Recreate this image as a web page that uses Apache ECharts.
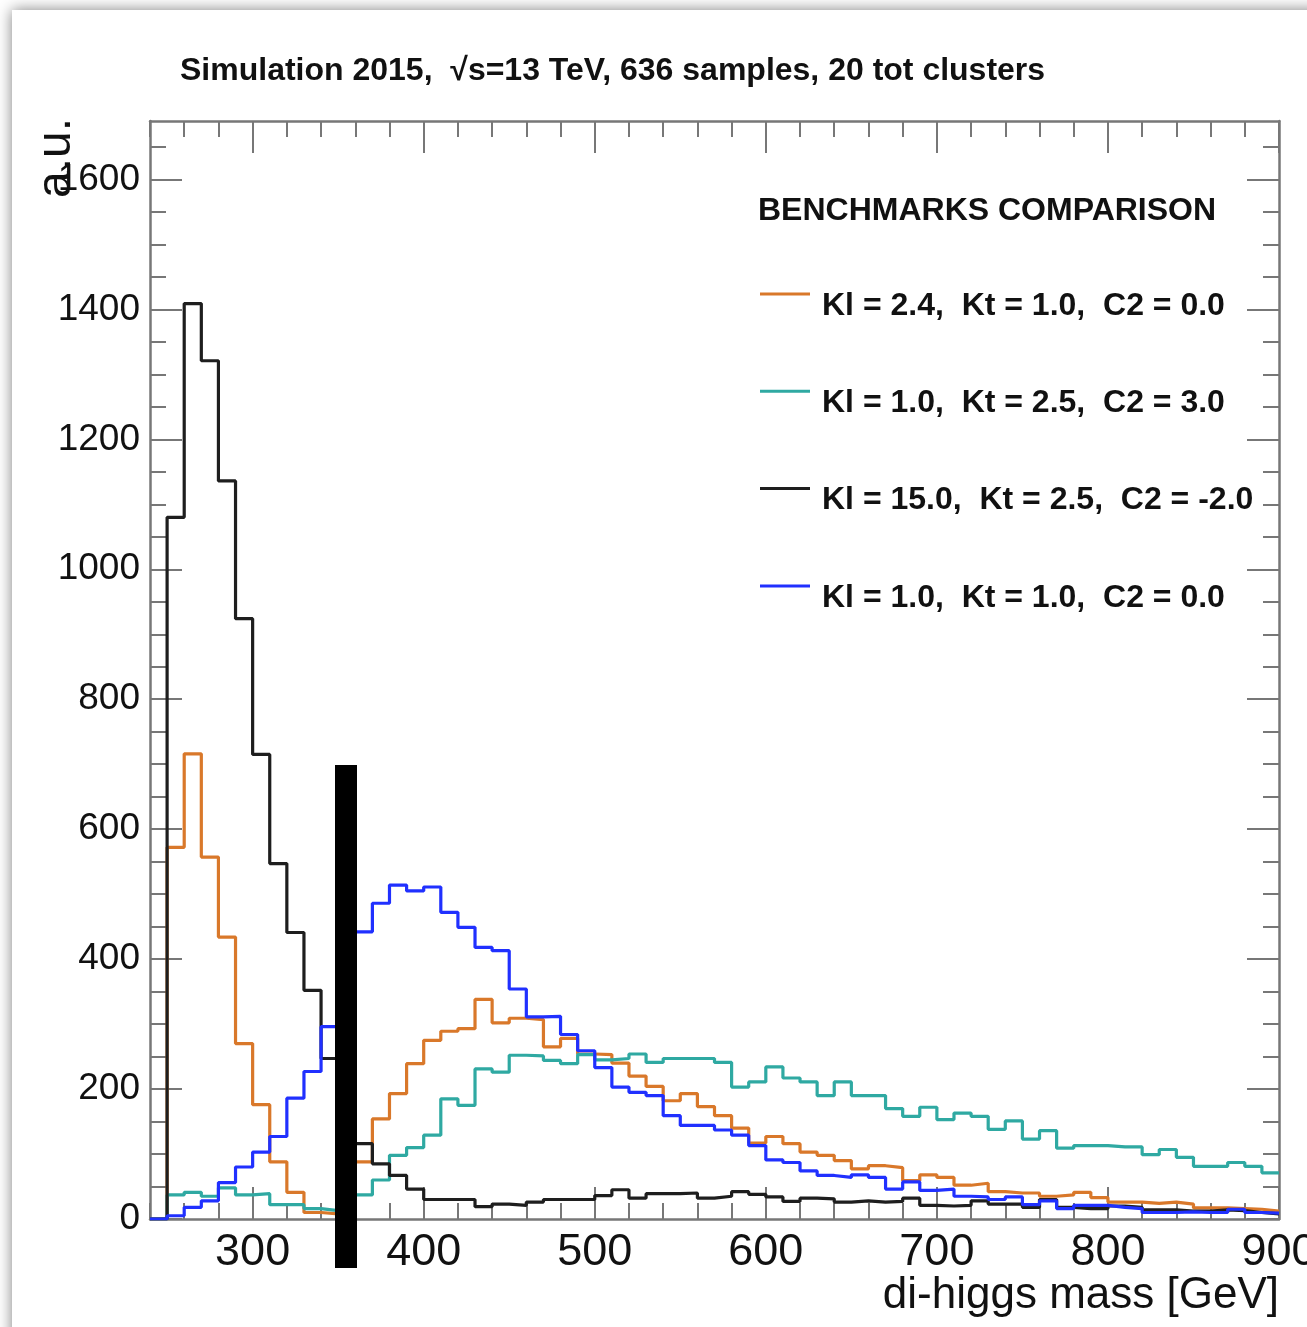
<!DOCTYPE html>
<html>
<head>
<meta charset="utf-8">
<script src="https://cdn.jsdelivr.net/npm/echarts@6/dist/echarts.min.js"></script>
<style>
html,body{margin:0;padding:0;background:#fff;}
#chart{width:1307px;height:1327px;}
</style>
</head>
<body>
<div id="chart"></div>
<script>
// ---- data (10 GeV bins, lower edges) ----
const binLow = [240,250,260,270,280,290,300,310,320,330,
  340,350,360,370,380,390,400,410,420,430,
  440,450,460,470,480,490,500,510,520,530,
  540,550,560,570,580,590,600,610,620,630,
  640,650,660,670,680,690,700,710,720,730,
  740,750,760,770,780,790,800,810,820,830,
  840,850,860,870,880,890];
const xMin = 240;
const xMax = 900;
const yMax = 1690;

const seriesNames = [
  'Kl = 2.4,  Kt = 1.0,  C2 = 0.0',
  'Kl = 1.0,  Kt = 2.5,  C2 = 3.0',
  'Kl = 15.0,  Kt = 2.5,  C2 = -2.0',
  'Kl = 1.0,  Kt = 1.0,  C2 = 0.0'
];

const orangeVals = [0,572,716,557,434,270,176,88,41,10,
  8,34,88,154,193,239,275,289,293,338,
  302,309,307,265,278,254,253,240,220,204,
  182,193,173,159,140,117,127,116,103,98,
  90,77,82,79,59,68,64,52,55,42,
  40,40,35,37,41,33,26,26,24,26,
  23,17,17,16,15,12];

const tealVals = [0,37,41,35,48,37,39,22,22,16,
  13,22,37,60,98,110,129,185,175,231,
  226,252,251,244,239,253,245,247,254,241,
  247,247,247,241,203,211,234,217,211,190,
  211,190,190,170,158,172,153,163,158,138,
  151,123,136,109,113,113,111,111,99,107,
  95,81,81,87,81,71];

const blackVals = [0,1080,1409,1321,1136,924,715,547,441,352,
  247,182,116,85,67,46,30,30,30,19,
  23,21,26,30,30,30,36,45,32,39,
  39,40,32,35,42,38,34,27,32,31,
  26,28,26,27,32,21,20,21,28,23,
  23,18,30,18,16,16,20,18,14,14,
  12,12,14,13,10,8];

const blueVals = [0,5,18,28,56,80,103,127,186,227,
  296,380,442,486,514,505,511,472,449,418,
  413,354,311,312,284,259,233,203,195,190,
  159,144,144,137,129,113,91,87,74,67,
  64,68,64,46,57,44,46,35,34,30,
  34,22,28,16,21,21,18,16,10,10,
  11,10,10,15,10,9];

const xMajorTicks = [300,400,500,600,700,800,900];
const yMajorTicks = [0,200,400,600,800,1000,1200,1400,1600];
const yMinorTicks = [0,50,100,150,200,250,300,350,400,450,500,550,600,650,700,750,800,850,900,950,1000,1050,1100,1150,1200,1250,1300,1350,1400,1450,1500,1550,1600,1650];

const colors = ['#D9782A', '#2FA9A2', '#1E1E1E', '#2030FF'];

// ---- build ----
const FONT = '"Liberation Sans", Arial, Helvetica, sans-serif';
const frameColor = '#777';
const tickStyle = {color: frameColor, width: 2};

function histData(vals) {
  const d = binLow.map((x, i) => [x, vals[i]]);
  d.push([xMax, vals[vals.length - 1]]);
  return d;
}

function xAxisDef(pos, major, showLine, withLabels) {
  const a = {
    type: 'value', min: xMin, max: xMax, position: pos,
    axisLine: {show: showLine, onZero: false, lineStyle: {color: frameColor, width: 2.5}},
    splitLine: {show: false},
    axisLabel: {show: false},
    axisTick: {show: true, inside: true, length: major ? 32 : 16, lineStyle: tickStyle}
  };
  if (major) {
    a.axisTick.customValues = xMajorTicks;
  } else {
    a.interval = 20;
  }
  if (withLabels) {
    a.axisLabel = {show: true, customValues: xMajorTicks, fontSize: 45, margin: 11,
      color: '#111', fontFamily: FONT, formatter: v => String(v)};
    a.name = 'di-higgs mass [GeV]';
    a.nameLocation = 'end';
    a.nameGap = 0;
    a.nameMoveOverlap = false;
    a.nameTextStyle = {fontSize: 44, fontFamily: FONT, color: '#111', align: 'right',
      verticalAlign: 'top', padding: [55, 0, 0, 0]};
  }
  return a;
}

function yAxisDef(pos, major, showLine, withLabels) {
  const a = {
    type: 'value', min: 0, max: yMax, position: pos,
    axisLine: {show: showLine, onZero: false, lineStyle: {color: frameColor, width: 2.5}},
    splitLine: {show: false},
    axisLabel: {show: false},
    axisTick: {show: true, inside: true, length: major ? 32 : 16, lineStyle: tickStyle,
      customValues: major ? yMajorTicks : yMinorTicks}
  };
  if (withLabels) {
    a.axisLabel = {show: true, customValues: yMajorTicks, fontSize: 37, margin: 10,
      color: '#111', fontFamily: FONT, formatter: v => String(v)};
  }
  return a;
}

const chart = echarts.init(document.getElementById('chart'), null, {renderer: 'canvas'});

const allVals = [orangeVals, tealVals, blackVals, blueVals];

chart.setOption({
  animation: false,
  backgroundColor: '#fff',
  title: [
    {text: 'Simulation 2015,  \u221As=13 TeV, 636 samples, 20 tot clusters', left: 175, top: 50,
      textStyle: {fontSize: 32, fontWeight: 'bold', fontFamily: FONT, color: '#111'}},
    {text: 'BENCHMARKS COMPARISON', left: 753, top: 190,
      textStyle: {fontSize: 32, fontWeight: 'bold', fontFamily: FONT, color: '#111'}}
  ],
  legend: {
    orient: 'vertical', left: 755, top: 285,
    itemWidth: 50, itemHeight: 27, itemGap: 65.3,
    icon: 'path://M0,0L50,0L50,3L0,3Z M0,27L50,27',
    itemStyle: {borderWidth: 0, borderColor: 'transparent'},
    data: seriesNames,
    textStyle: {fontSize: 32, fontWeight: 'bold', fontFamily: FONT, color: '#111',
      lineHeight: 30, padding: [0, 0, 0, 7]}
  },
  grid: {left: 150, right: 28, top: 121, bottom: 108, outerBoundsMode: 'none', containLabel: false},
  xAxis: [
    xAxisDef('bottom', true, true, true),
    xAxisDef('bottom', false, false, false),
    xAxisDef('top', true, true, false),
    xAxisDef('top', false, false, false)
  ],
  yAxis: [
    yAxisDef('left', true, true, true),
    yAxisDef('left', false, false, false),
    yAxisDef('right', true, true, false),
    yAxisDef('right', false, false, false)
  ],
  graphic: [
    {type: 'rect', z: -100, silent: true,
      shape: {x: 12, y: 10, width: 1400, height: 1400},
      style: {fill: '#fff', shadowBlur: 14, shadowColor: 'rgba(0,0,0,0.5)'}},
    {type: 'text', x: 57, y: 118, rotation: Math.PI / 2, z: 10,
      style: {text: 'a.u.', font: '48px ' + FONT, fill: '#111', align: 'right', verticalAlign: 'middle'}},
    {type: 'rect', z: 100, silent: true,
      shape: {x: 335, y: 765, width: 22, height: 503},
      style: {fill: '#000'}}
  ],
  series: allVals.map((vals, i) => ({
    name: seriesNames[i],
    type: 'line',
    step: 'end',
    showSymbol: false,
    symbol: 'none',
    xAxisIndex: 0, yAxisIndex: 0,
    data: histData(vals),
    lineStyle: {color: colors[i], width: 3.2},
    itemStyle: {color: colors[i]},
    z: 2 + i
  }))
});
</script>
</body>
</html>
